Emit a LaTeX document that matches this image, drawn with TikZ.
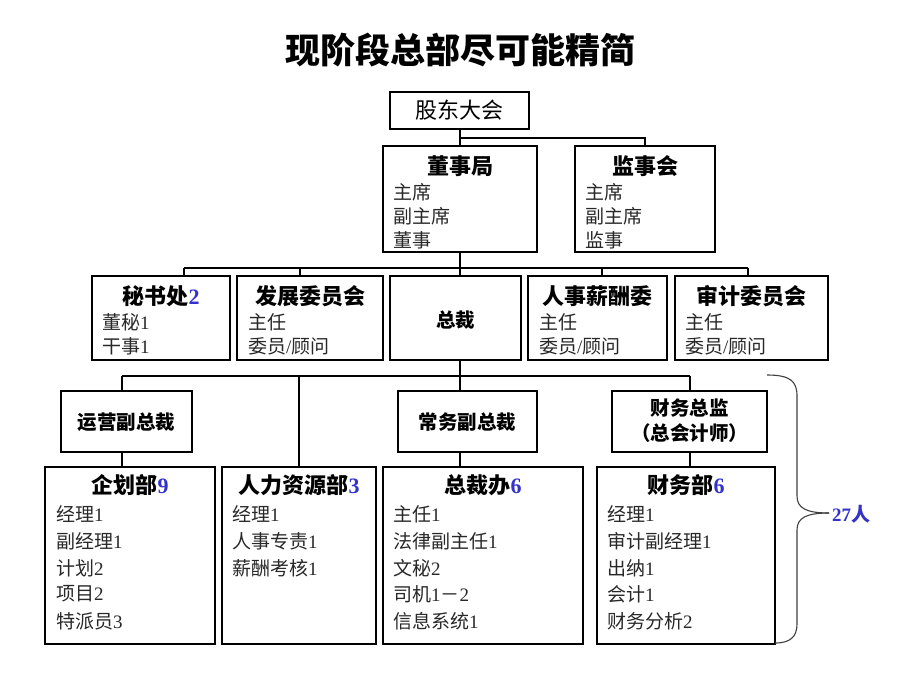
\documentclass[tikz,border=0pt]{standalone}
\usepackage{fontspec}
\setmainfont{Liberation Serif}
\newfontfamily\cjk{Noto Sans CJK SC}
\definecolor{numblue}{RGB}{51,51,204}
\definecolor{bodygray}{RGB}{40,40,40}
\newcommand\zh[1]{{\cjk #1}}
\newcommand\num[1]{{\bfseries\color{numblue}#1}}
\begin{document}
\begin{tikzpicture}[x=1pt,y=-1pt,
  box/.style={draw, line width=2.6pt, rectangle, inner sep=0pt},
  conn/.style={line width=2.2pt},
  ttl/.style={inner sep=0pt, font=\fontsize{22}{24}\selectfont\bfseries\cjk},
  bdy/.style={inner sep=0pt, anchor=west, text=bodygray, font=\fontsize{19}{21}\selectfont},
  mid/.style={inner sep=0pt, font=\fontsize{19.5}{25}\selectfont\bfseries\cjk, align=center}]
\fill[white] (0,0) rectangle (920,690);
\useasboundingbox (0,0) rectangle (920,690);

\node[inner sep=0pt, font=\fontsize{35}{38}\selectfont\bfseries\cjk] (title) at (460,50) {现阶段总部尽可能精简};

% boxes
\node[box, minimum width=139pt, minimum height=37pt] (gd) at (459.5,110.5) {};
\node[box, minimum width=154pt, minimum height=106pt] (dsj) at (460,199) {};
\node[box, minimum width=140pt, minimum height=106pt] (jsh) at (645,199) {};
\node[box, minimum width=138pt, minimum height=84pt] (mss) at (161,318) {};
\node[box, minimum width=146pt, minimum height=84pt] (fz) at (310,318) {};
\node[box, minimum width=131pt, minimum height=84pt] (zc) at (455.5,318) {};
\node[box, minimum width=139pt, minimum height=84pt] (rs) at (597.5,318) {};
\node[box, minimum width=153pt, minimum height=84pt] (sj) at (751.5,318) {};
\node[box, minimum width=131pt, minimum height=61pt] (yy) at (126.5,421.5) {};
\node[box, minimum width=139pt, minimum height=61pt] (cw) at (467.5,421.5) {};
\node[box, minimum width=155pt, minimum height=61pt] (cwzj) at (689.5,421.5) {};
\node[box, minimum width=170pt, minimum height=177pt] (qh) at (130,555.5) {};
\node[box, minimum width=154pt, minimum height=177pt] (hr) at (299,555.5) {};
\node[box, minimum width=200pt, minimum height=177pt] (zcb) at (483,555.5) {};
\node[box, minimum width=178pt, minimum height=177pt] (cwb) at (686,555.5) {};

% texts
\node[inner sep=0pt, font=\fontsize{22}{24}\selectfont\cjk] (gdt) at (gd.center) {股东大会};

\node[ttl] (dsjt) at (460,166) {董事局};
\node[bdy] (dsj1) at (393,192) {\zh{主席}};
\node[bdy] (dsj2) at (393,216) {\zh{副主席}};
\node[bdy] (dsj3) at (393,240) {\zh{董事}};

\node[ttl] (jsht) at (645,166) {监事会};
\node[bdy] (jsh1) at (585,192) {\zh{主席}};
\node[bdy] (jsh2) at (585,216) {\zh{副主席}};
\node[bdy] (jsh3) at (585,240) {\zh{监事}};

\node[ttl] (msst) at (161,296) {秘书处\num{\rmfamily 2}};
\node[bdy] (mss1) at (102,322) {\zh{董秘}1};
\node[bdy] (mss2) at (102,346) {\zh{干事}1};

\node[ttl] (fzt) at (310,296) {发展委员会};
\node[bdy] (fz1) at (248,322) {\zh{主任}};
\node[bdy] (fz2) at (248,346) {\zh{委员}/\zh{顾问}};

\node[mid] (zct) at (455.5,320) {总裁};

\node[ttl] (rst) at (597.5,296) {人事薪酬委};
\node[bdy] (rs1) at (539,322) {\zh{主任}};
\node[bdy] (rs2) at (539,346) {\zh{委员}/\zh{顾问}};

\node[ttl] (sjt) at (751.5,296) {审计委员会};
\node[bdy] (sj1) at (685,322) {\zh{主任}};
\node[bdy] (sj2) at (685,346) {\zh{委员}/\zh{顾问}};

\node[mid] (yyt) at (126.5,422) {运营副总裁};
\node[mid] (cwt) at (467.5,422) {常务副总裁};
\node[mid] (cwzjt) at (689.5,421) {财务总监\\（总会计师）};

\node[ttl] (qht) at (130,485) {企划部\num{\rmfamily 9}};
\node[bdy] (qh1) at (56,514) {\zh{经理}1};
\node[bdy] (qh2) at (56,541) {\zh{副经理}1};
\node[bdy] (qh3) at (56,568) {\zh{计划}2};
\node[bdy] (qh4) at (56,594) {\zh{项目}2};
\node[bdy] (qh5) at (56,621) {\zh{特派员}3};

\node[ttl] (hrt) at (299,485) {人力资源部\num{\rmfamily 3}};
\node[bdy] (hr1) at (232,514) {\zh{经理}1};
\node[bdy] (hr2) at (232,541) {\zh{人事专责}1};
\node[bdy] (hr3) at (232,568) {\zh{薪酬考核}1};

\node[ttl] (zcbt) at (483,485) {总裁办\num{\rmfamily 6}};
\node[bdy] (zcb1) at (393,514) {\zh{主任}1};
\node[bdy] (zcb2) at (393,541) {\zh{法律副主任}1};
\node[bdy] (zcb3) at (393,568) {\zh{文秘}2};
\node[bdy] (zcb4) at (393,594) {\zh{司机}1\zh{－}2};
\node[bdy] (zcb5) at (393,621) {\zh{信息系统}1};

\node[ttl] (cwbt) at (686,485) {财务部\num{\rmfamily 6}};
\node[bdy] (cwb1) at (607,514) {\zh{经理}1};
\node[bdy] (cwb2) at (607,541) {\zh{审计副经理}1};
\node[bdy] (cwb3) at (607,568) {\zh{出纳}1};
\node[bdy] (cwb4) at (607,594) {\zh{会计}1};
\node[bdy] (cwb5) at (607,621) {\zh{财务分析}2};

% connectors
\coordinate (j1) at (460,138);
\draw[conn] (gd.south -| j1) -- (dsj.north -| j1);
\draw[conn] (j1) -| (jsh.north);

\coordinate (h2l) at (184,268);
\coordinate (h2r) at (748,268);
\draw[conn] (dsj.south -| j1) -- (zc.north -| j1);
\draw[conn] (h2l) -- (h2r);
\draw[conn] (h2l) -- (h2l |- mss.north);
\draw[conn] (300,268) -- (fz.north -| 300,0);
\draw[conn] (602,268) -- (rs.north -| 602,0);
\draw[conn] (h2r) -- (h2r |- sj.north);

\coordinate (h3l) at (122,376);
\coordinate (h3r) at (690,376);
\draw[conn] (zc.south -| j1) -- (cw.north -| j1);
\draw[conn] (h3l) -- (h3r);
\draw[conn] (h3l) -- (h3l |- yy.north);
\draw[conn] (299,376) -- (hr.north);
\draw[conn] (h3r) -- (h3r |- cwzj.north);
\draw[conn] (yy.south -| h3l) -- (qh.north -| h3l);
\draw[conn] (cw.south -| j1) -- (zcb.north -| j1);
\draw[conn] (cwzj.south -| h3r) -- (cwb.north -| h3r);

% brace
\coordinate (btip) at (829,513);
\draw[line width=1.1pt, black!75] (767,375) .. controls (790,375) and (797,381) .. (797,396) -- (797,496) .. controls (797,508) and (806,513) .. (btip);
\draw[line width=1.1pt, black!75] (775,643) .. controls (790,643) and (797,637) .. (797,624) -- (797,530) .. controls (797,518) and (806,513) .. (btip);
\node[inner sep=0pt, anchor=west, text=numblue, font=\fontsize{19}{22}\selectfont\bfseries] (ren) at (832,514) {27\zh{人}};
\end{tikzpicture}
\end{document}
